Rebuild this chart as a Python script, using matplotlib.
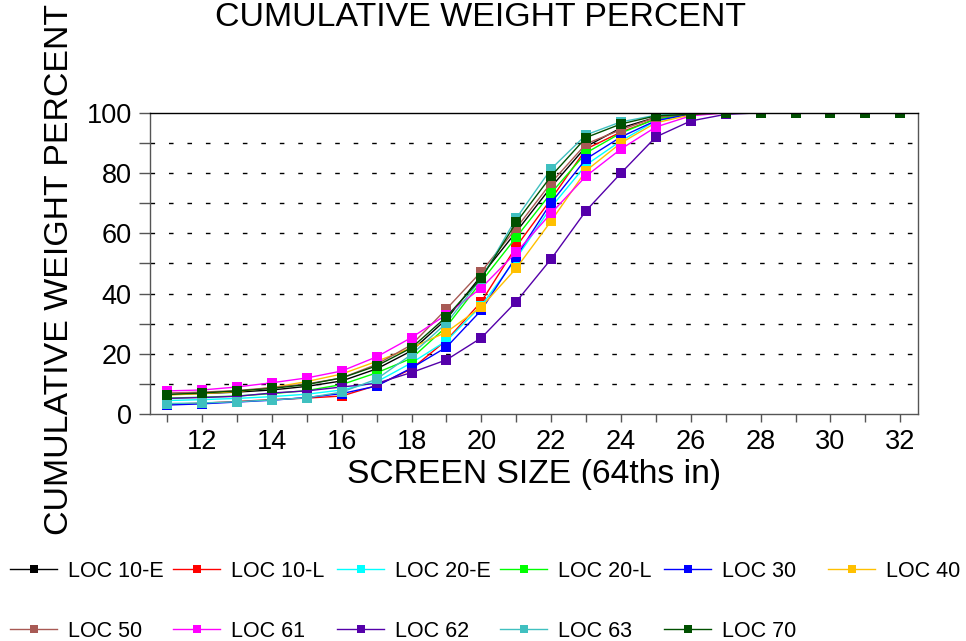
import matplotlib.pyplot as plt
from matplotlib.ticker import MultipleLocator

plt.rcParams["font.family"] = ["Liberation Sans", "DejaVu Sans"]

# Screen sizes (64ths of an inch)
screen_size = list(range(11, 33))

# Cumulative weight percent per location
loc_10e = [6.5, 6.8, 7.3, 8.0, 9.2, 11.0, 15.0, 21.0, 31.5, 46.0, 60.5, 75.4, 88.8, 95.0, 98.5, 99.6] + [100.0] * 6
loc_10l = [3.3, 3.6, 4.2, 4.8, 5.3, 6.0, 9.5, 15.0, 24.5, 37.3, 55.6, 71.4, 88.0, 93.6, 98.0, 99.6] + [100.0] * 6
loc_20e = [4.5, 4.8, 5.2, 5.8, 6.6, 8.0, 10.7, 17.0, 24.3, 36.0, 51.7, 68.7, 82.7, 90.7, 97.3, 99.5] + [100.0] * 6
loc_20l = [5.3, 5.6, 6.0, 6.8, 7.8, 9.8, 13.7, 18.5, 29.0, 44.0, 58.7, 73.4, 86.7, 93.3, 98.0, 99.7] + [100.0] * 6
loc_30 = [3.0, 3.4, 4.0, 4.6, 5.5, 6.8, 9.3, 15.3, 22.2, 34.5, 52.3, 70.2, 84.7, 92.0, 97.4, 99.6] + [100.0] * 6
loc_40 = [6.3, 6.8, 7.5, 8.8, 10.8, 13.3, 17.5, 22.0, 27.2, 35.6, 48.4, 64.1, 80.8, 90.0, 96.7, 99.3] + [100.0] * 6
loc_50 = [7.0, 7.3, 7.8, 8.8, 10.0, 12.0, 16.5, 23.0, 34.9, 47.3, 61.7, 76.8, 89.7, 94.4, 98.5, 99.7] + [100.0] * 6
loc_61 = [7.7, 8.0, 9.0, 10.4, 12.0, 14.3, 19.0, 25.4, 33.0, 41.9, 53.7, 66.7, 79.0, 88.0, 95.3, 99.0] + [100.0] * 6
loc_62 = [5.2, 5.5, 5.9, 7.0, 7.7, 9.0, 10.2, 13.8, 18.0, 25.3, 37.3, 51.5, 67.5, 80.0, 92.0, 97.3, 99.5] + [100.0] * 5
loc_63 = [3.5, 3.7, 4.1, 4.7, 5.4, 7.3, 11.6, 19.8, 30.2, 45.0, 65.0, 81.4, 92.7, 97.0, 99.2, 99.9] + [100.0] * 6
loc_70 = [6.5, 7.0, 7.7, 8.5, 9.8, 12.0, 16.0, 22.0, 32.3, 45.1, 63.6, 79.0, 91.8, 96.3, 99.0, 99.5] + [100.0] * 6

labels = ["LOC 10-E", "LOC 10-L", "LOC 20-E", "LOC 20-L", "LOC 30", "LOC 40",
          "LOC 50", "LOC 61", "LOC 62", "LOC 63", "LOC 70"]
series = [loc_10e, loc_10l, loc_20e, loc_20l, loc_30, loc_40,
          loc_50, loc_61, loc_62, loc_63, loc_70]
colors = ["#000000", "#FF0000", "#00FFFF", "#00FF00", "#0000FF", "#FFC000",
          "#A85A55", "#FF00FF", "#5500AA", "#40C0C0", "#005000"]

fig = plt.figure(figsize=(9.66, 6.41), dpi=100)
ax = fig.add_axes([0.155, 0.354, 0.795, 0.470])

handles = []
for vals, lab, col in zip(series, labels, colors):
    (h,) = ax.plot(screen_size, vals, color=col, lw=1.0, marker="s",
                   markersize=6.5, markeredgewidth=0, label=lab)
    handles.append(h)

ax.set_xlim(10.5, 32.5)
ax.set_ylim(0, 100)
ax.xaxis.set_major_locator(MultipleLocator(2))
ax.xaxis.set_minor_locator(MultipleLocator(1))
ax.yaxis.set_major_locator(MultipleLocator(20))
ax.yaxis.set_minor_locator(MultipleLocator(10))
ax.tick_params(axis="x", which="both", direction="out", length=6, width=1,
               color="#555555", labelsize=19.5, pad=5)
ax.tick_params(axis="y", which="both", direction="out", length=8, width=1,
               color="#555555", labelsize=19.5, pad=5)

for y in range(10, 100, 10):
    ax.axhline(y, color="black", lw=1.0, ls=(0, (3.3, 10)), zorder=0)

for sp in ax.spines.values():
    sp.set_color("#555555")
    sp.set_linewidth(1.0)
ax.spines["top"].set_color("black")

fig.text(0.553, 0.259, "SCREEN SIZE (64ths in)", fontsize=24.2,
         ha="center", va="center")
fig.text(0.062, 0.579, "CUMULATIVE WEIGHT PERCENT", fontsize=24.4,
         rotation=90, ha="center", va="center")
fig.text(0.497, 0.973, "CUMULATIVE WEIGHT PERCENT", fontsize=24.4,
         ha="center", va="center")

# legend laid out in fixed-width columns like the original
col_x = [10, 173, 337, 500, 664, 828]
for c, x0 in enumerate(col_x):
    hs = [handles[c]]
    if c + 6 < len(handles):
        hs.append(handles[c + 6])
    fig.legend(handles=hs, loc="upper left",
               bbox_to_anchor=(x0 / 966, 1 - 561 / 641),
               frameon=False, fontsize=15.5, handlelength=2.2,
               handletextpad=0.5, labelspacing=1.8, borderpad=0,
               borderaxespad=0, markerscale=0.9)

fig.savefig("out.png", dpi=100)
